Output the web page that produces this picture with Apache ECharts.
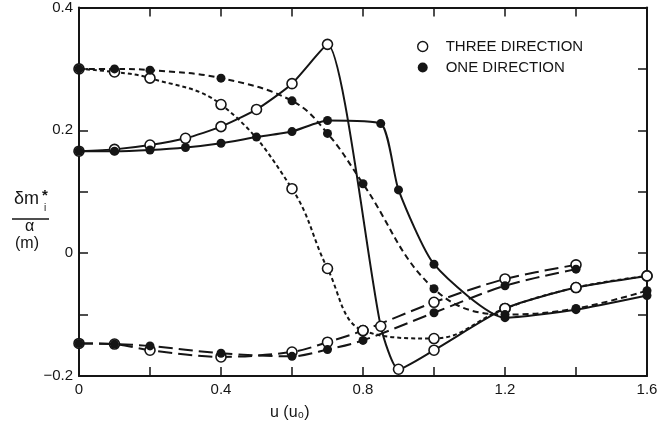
<!DOCTYPE html>
<html>
<head>
<meta charset="utf-8">
<script src="https://cdn.jsdelivr.net/npm/echarts@6/dist/echarts.min.js"></script>
<style>
  html, body { margin: 0; padding: 0; background: #fff; }
  #chart { width: 664px; height: 431px; }
</style>
</head>
<body>
<div id="chart"></div>
<script>
// values, u in units of u0
var uThreeSolid = [0, 0.1, 0.2, 0.3, 0.4, 0.5, 0.6, 0.7, 0.85, 0.9, 1.0, 1.2, 1.4, 1.6];
var mThreeSolid = [0.166, 0.169, 0.176, 0.187, 0.206, 0.234, 0.276, 0.34, -0.119, -0.189, -0.158, -0.09, -0.056, -0.037];

var uOneSolid = [0, 0.1, 0.2, 0.3, 0.4, 0.5, 0.6, 0.7, 0.85, 0.9, 1.0, 1.2, 1.4, 1.6];
var mOneSolid = [0.166, 0.166, 0.168, 0.172, 0.179, 0.189, 0.198, 0.216, 0.211, 0.103, -0.018, -0.105, -0.092, -0.069];

var uThreeDot = [0, 0.1, 0.2, 0.4, 0.6, 0.7, 0.8, 1.0, 1.2, 1.4, 1.6];
var mThreeDot = [0.3, 0.295, 0.285, 0.242, 0.105, -0.025, -0.126, -0.139, -0.09, -0.056, -0.037];

var uOneDash = [0, 0.1, 0.2, 0.4, 0.6, 0.7, 0.8, 1.0, 1.2, 1.4, 1.6];
var mOneDash = [0.3, 0.3, 0.298, 0.285, 0.248, 0.195, 0.113, -0.058, -0.1, -0.09, -0.061];

var uLow = [0, 0.1, 0.2, 0.4, 0.6, 0.7, 0.8, 1.0, 1.2, 1.4];
var mThreeLow = [-0.147, -0.148, -0.158, -0.169, -0.161, -0.145, -0.126, -0.08, -0.042, -0.019];
var mOneLow = [-0.147, -0.148, -0.151, -0.163, -0.168, -0.157, -0.142, -0.097, -0.053, -0.026];

var xTicks = [0, 0.4, 0.8, 1.2, 1.6];
var yTicks = [-0.2, 0, 0.2, 0.4];

var THREE = 'THREE DIRECTION';
var ONE = 'ONE DIRECTION';
var ink = '#151515';
var font = 'Liberation Sans';

function pairs(xs, ys) {
    var out = [];
    for (var i = 0; i < xs.length; i++) out.push([xs[i], ys[i]]);
    return out;
}
function near(v, list) {
    for (var i = 0; i < list.length; i++) if (Math.abs(v - list[i]) < 1e-6) return true;
    return false;
}

function openLine(data, dash, smooth) {
    return {
        name: THREE, type: 'line', data: data, smooth: smooth,
        symbol: 'circle', symbolSize: 10,
        itemStyle: { color: '#fff', borderColor: ink, borderWidth: 1.6 },
        lineStyle: { color: ink, width: 2, type: dash },
        z: 2
    };
}
function filledLine(data, dash, smooth) {
    return {
        name: ONE, type: 'line', data: data, smooth: smooth,
        symbol: 'circle', symbolSize: 9,
        itemStyle: { color: ink, borderColor: ink, borderWidth: 0 },
        lineStyle: { color: ink, width: 2, type: dash },
        z: 3
    };
}
function frameAxis(pos, min, max, step, extra) {
    var ax = {
        type: 'value', min: min, max: max, interval: step, position: pos,
        axisLine: { show: true, onZero: false, lineStyle: { color: ink, width: 2 } },
        axisTick: { show: true, inside: true, length: 9, lineStyle: { color: ink, width: 1.5 } },
        splitLine: { show: false },
        axisLabel: { show: false }
    };
    if (extra) ax.axisLabel = extra;
    return ax;
}

var myChart = echarts.init(document.getElementById('chart'), null, { renderer: 'canvas' });

var option = {
    backgroundColor: '#fff',
    animation: false,
    textStyle: { fontFamily: font, color: ink },
    grid: { left: 79, right: 17, top: 4, bottom: 55 },
    legend: {
        orient: 'vertical', left: 412, top: 34, itemGap: 6,
        icon: 'circle', itemWidth: 36, itemHeight: 10,
        textStyle: { fontFamily: font, fontSize: 15, color: ink },
        data: [
            { name: THREE, itemStyle: { color: '#fff', borderColor: ink, borderWidth: 1.4 } },
            { name: ONE, itemStyle: { color: ink, borderWidth: 0 } }
        ]
    },
    xAxis: [
        frameAxis('bottom', 0, 1.6, 0.2, {
            fontSize: 15, color: ink, fontFamily: font, margin: 6,
            formatter: function (v) { return near(v, xTicks) ? String(Math.round(v * 10) / 10) : ''; }
        }),
        frameAxis('top', 0, 1.6, 0.2)
    ],
    yAxis: [
        frameAxis('left', -0.2, 0.4, 0.1, {
            fontSize: 15, color: ink, fontFamily: font, margin: 6,
            formatter: function (v) {
                if (!near(v, yTicks)) return '';
                var r = Math.round(v * 10) / 10;
                return r < 0 ? '\u2212' + Math.abs(r) : String(r);
            }
        }),
        frameAxis('right', -0.2, 0.4, 0.1)
    ],
    graphic: [
        { type: 'text', left: 14, top: 190, style: { text: '\u03b4m', fontSize: 18, fontFamily: font, fill: ink } },
        { type: 'text', left: 42, top: 188, style: { text: '*', fontSize: 15, fontWeight: 'bold', fontFamily: font, fill: ink } },
        { type: 'text', left: 44, top: 203, style: { text: 'i', fontSize: 10, fontFamily: font, fill: ink } },
        { type: 'line', shape: { x1: 12, y1: 219, x2: 49, y2: 219 }, style: { stroke: ink, lineWidth: 1.5 } },
        { type: 'text', left: 25, top: 219, style: { text: '\u03b1', fontSize: 16, fontFamily: font, fill: ink } },
        { type: 'text', left: 15, top: 236, style: { text: '(m)', fontSize: 16, fontFamily: font, fill: ink } },
        { type: 'text', left: 270, top: 405, style: { text: 'u (u\u2080)', fontSize: 16, fontFamily: font, fill: ink } }
    ],
    series: [
        openLine(pairs(uThreeSolid, mThreeSolid), 'solid', 0.2),
        openLine(pairs(uThreeDot, mThreeDot), [4, 3], 0.4),
        openLine(pairs(uLow, mThreeLow), [14, 6], 0.3),
        filledLine(pairs(uOneSolid, mOneSolid), 'solid', 0.2),
        filledLine(pairs(uOneDash, mOneDash), [6, 4], 0.4),
        filledLine(pairs(uLow, mOneLow), [14, 6], 0.3)
    ]
};
myChart.setOption(option);
</script>
</body>
</html>
